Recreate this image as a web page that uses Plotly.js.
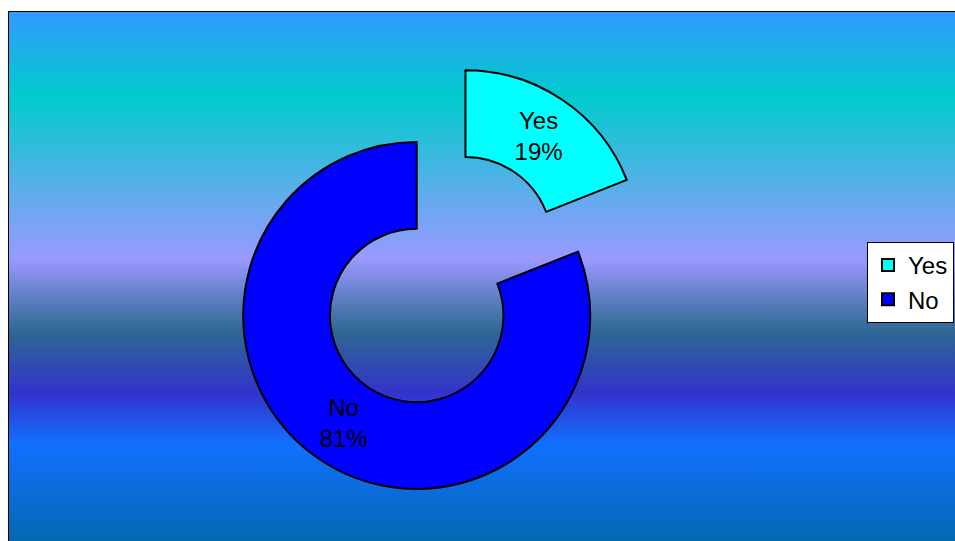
<!DOCTYPE html>
<html>
<head>
<meta charset="utf-8">
<script src="https://cdn.plot.ly/plotly-3.0.1.min.js"></script>
<style>
  html, body { margin: 0; padding: 0; width: 955px; height: 541px; overflow: hidden; background: #ffffff; }
  #frame {
    position: absolute; left: 8px; top: 11px; width: 960px; height: 600px;
    border: 1.5px solid #000;
    background: linear-gradient(to bottom,
      #3399FF 0px, #00CCCC 85px, #66AAEE 190px, #9999FF 247px,
      #2E6792 320px, #3333CC 381px, #1170FF 432px, #006699 560px);
  }
  #chart { position: absolute; left: 0; top: 0; width: 955px; height: 600px; }
</style>
</head>
<body>
<div id="frame"></div>
<div id="chart"></div>
<script>
  // Data
  var labels = ['Yes', 'No'];
  var values = [19, 81];

  // Styles
  var sliceColors = ['#00FFFF', '#0000FF'];
  var pulls = [0.5, 0];

  var H = 600, W = 955;
  var cx = 416.7, cy = 315.5, r = 173.5;
  var half = r * 1.5;
  var FONT = '"Liberation Sans", Arial, sans-serif';

  function domainX(l, w) {
    return [(cx - 300 - l) / w, (cx + 300 - l) / w];
  }

  var trace = {
    type: 'pie',
    labels: labels,
    values: values,
    sort: false,
    direction: 'clockwise',
    rotation: 0,
    hole: 0.5,
    pull: pulls,
    marker: { colors: sliceColors, line: { color: '#000000', width: 2 } },
    textinfo: 'label+percent',
    textposition: 'inside',
    insidetextorientation: 'horizontal',
    textfont: { family: FONT, size: 24, color: '#000000' },
    hoverinfo: 'none',
    domain: {
      x: domainX(0, W),
      y: [1 - (cy + half) / H, 1 - (cy - half) / H]
    }
  };

  var layout = {
    width: W, height: H,
    margin: { l: 0, r: 0, t: 0, b: 0 },
    paper_bgcolor: 'rgba(0,0,0,0)',
    plot_bgcolor: 'rgba(0,0,0,0)',
    showlegend: true,
    legend: {
      xref: 'container', yref: 'container',
      x: 867 / W, y: 1 - 242 / H,
      xanchor: 'left', yanchor: 'top',
      bgcolor: '#FFFFFF', bordercolor: '#000000', borderwidth: 1,
      font: { family: FONT, size: 24, color: '#000000' },
      itemclick: false, itemdoubleclick: false
    }
  };

  Plotly.newPlot('chart', [trace], layout, { staticPlot: true, displayModeBar: false }).then(function (gd) {
    var s = gd._fullLayout._size;
    var dx = domainX(s.l, s.w);
    var ty = gd._fullLayout._size;
    var dy = [1 - (cy + half - ty.t) / ty.h, 1 - (cy - half - ty.t) / ty.h];
    return Plotly.restyle(gd, { 'domain.x': [dx], 'domain.y': [dy] });
  });
</script>
</body>
</html>
